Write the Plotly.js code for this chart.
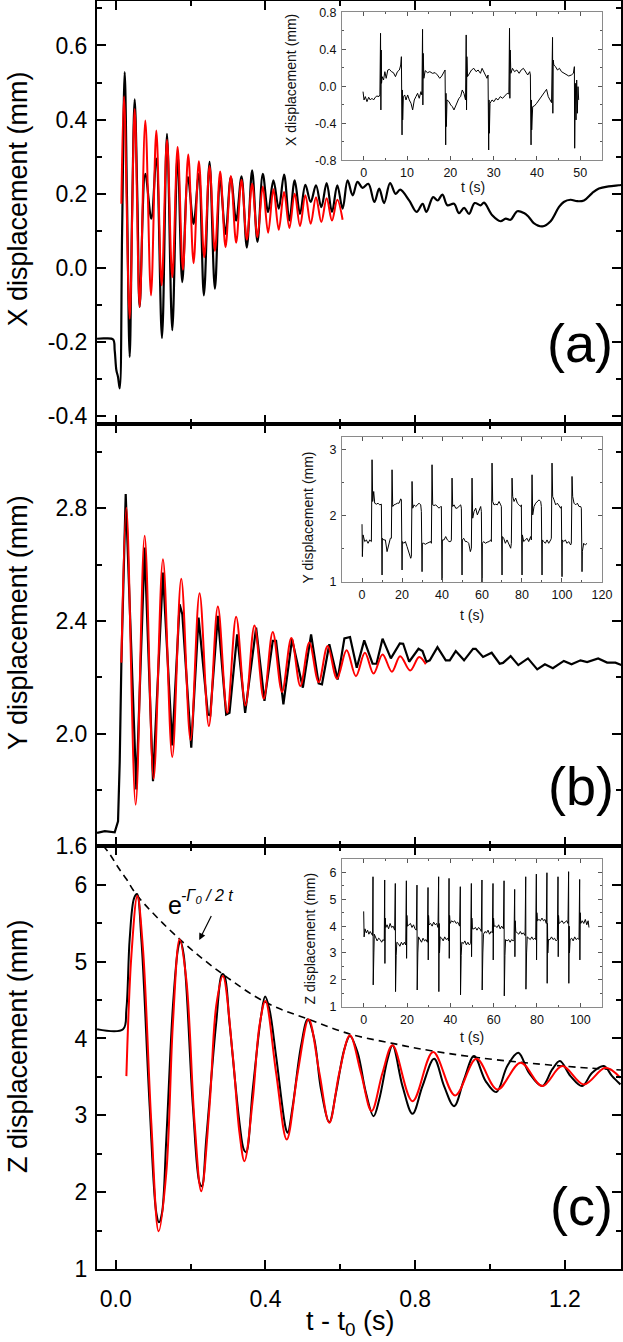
<!DOCTYPE html>
<html>
<head>
<meta charset="utf-8">
<script src="https://cdn.plot.ly/plotly-3.0.1.min.js"></script>
<style>html,body{margin:0;padding:0;background:#fff;}</style>
</head>
<body>
<div id="chart" style="width:623px;height:1342px;"></div>
<script>
// ---------- DATA (t - t0 in s, displacement in mm) ----------
const blackA = [[-0.0498,-0.191],[-0.03,-0.19],[-0.007,-0.193],[-0.0027,-0.222],[0.0018,-0.276],[0.0062,-0.294],[0.0107,-0.325],[0.017,0.092],[0.024,0.528],[0.0302,0.182],[0.0373,-0.240],[0.0436,0.137],[0.0507,0.455],[0.058,0.18],[0.064,-0.105],[0.0791,0.254],[0.0951,0.133],[0.1085,0.295],[0.1236,-0.189],[0.137,0.362],[0.1511,-0.168],[0.1654,0.308],[0.1778,-0.038],[0.1929,0.245],[0.208,0.119],[0.2222,0.254],[0.2356,-0.074],[0.2507,0.286],[0.265,-0.056],[0.2791,0.236],[0.2934,0.092],[0.3076,0.245],[0.3218,0.128],[0.3361,0.247],[0.3503,0.055],[0.3645,0.263],[0.3787,0.07],[0.393,0.254],[0.4071,0.151],[0.4214,0.236],[0.4356,0.160],[0.4498,0.252],[0.464,0.128],[0.4782,0.236],[0.4924,0.146],[0.5067,0.224],[0.5209,0.178],[0.5351,0.223],[0.5493,0.164],[0.5636,0.229],[0.5778,0.151],[0.592,0.223],[0.6062,0.160],[0.6195,0.236],[0.633,0.196],[0.646,0.232],[0.6595,0.216],[0.675,0.227],[0.691,0.178],[0.704,0.214],[0.717,0.175],[0.733,0.229],[0.748,0.200],[0.760,0.211],[0.784,0.182],[0.804,0.151],[0.820,0.173],[0.830,0.151],[0.848,0.191],[0.860,0.182],[0.873,0.198],[0.886,0.169],[0.904,0.173],[0.917,0.148],[0.931,0.162],[0.944,0.146],[0.959,0.175],[0.975,0.169],[0.984,0.176],[1.006,0.142],[1.028,0.126],[1.042,0.133],[1.055,0.130],[1.073,0.153],[1.091,0.148],[1.104,0.137],[1.117,0.121],[1.140,0.112],[1.162,0.126],[1.184,0.164],[1.197,0.178],[1.215,0.184],[1.233,0.180],[1.251,0.182],[1.273,0.202],[1.291,0.214],[1.317,0.220],[1.344,0.223],[1.352,0.224]];
const redA = [[0.0151,0.173],[0.0222,0.463],[0.0373,-0.137],[0.0507,0.429],[0.064,-0.105],[0.0791,0.398],[0.0943,-0.074],[0.1085,0.371],[0.1227,-0.047],[0.137,0.346],[0.1511,-0.025],[0.1654,0.326],[0.1796,-0.005],[0.1938,0.306],[0.208,0.013],[0.2222,0.288],[0.2365,0.029],[0.2507,0.275],[0.265,0.046],[0.2791,0.260],[0.2934,0.056],[0.3076,0.248],[0.3218,0.068],[0.3361,0.238],[0.3503,0.076],[0.3645,0.227],[0.3787,0.083],[0.393,0.220],[0.4071,0.095],[0.4214,0.212],[0.4356,0.103],[0.4498,0.205],[0.464,0.108],[0.4782,0.200],[0.4924,0.113],[0.5067,0.196],[0.5209,0.119],[0.5351,0.191],[0.5493,0.124],[0.5636,0.188],[0.5778,0.128],[0.592,0.184],[0.6062,0.130]];

const blackB = [[-0.0498,1.648],[-0.0293,1.654],[-0.0027,1.650],[0.0062,1.689],[0.0107,1.90],[0.0151,2.252],[0.0267,2.850],[0.0356,2.524],[0.0551,1.802],[0.0773,2.660],[0.0996,1.831],[0.1262,2.572],[0.1511,1.958],[0.1707,2.459],[0.178,2.423],[0.2018,1.950],[0.2214,2.412],[0.2462,2.068],[0.2525,2.065],[0.2729,2.418],[0.2951,2.068],[0.304,2.074],[0.3245,2.352],[0.3458,2.074],[0.3751,2.376],[0.3974,2.116],[0.4196,2.329],[0.4284,2.329],[0.4480,2.104],[0.4711,2.335],[0.5,2.163],[0.522,2.352],[0.5422,2.178],[0.5511,2.175],[0.5707,2.317],[0.593,2.192],[0.611,2.338],[0.626,2.343],[0.644,2.234],[0.664,2.331],[0.6863,2.248],[0.6969,2.248],[0.7129,2.337],[0.7351,2.267],[0.7591,2.320],[0.768,2.319],[0.784,2.255],[0.809,2.301],[0.8196,2.293],[0.8303,2.255],[0.8391,2.260],[0.8596,2.307],[0.8818,2.260],[0.8925,2.260],[0.9085,2.293],[0.9307,2.260],[0.9547,2.301],[0.9618,2.301],[0.9814,2.272],[1.0045,2.287],[1.0258,2.248],[1.0347,2.251],[1.0551,2.275],[1.0756,2.243],[1.1014,2.267],[1.1262,2.228],[1.1467,2.246],[1.168,2.232],[1.1973,2.258],[1.2178,2.246],[1.2418,2.260],[1.2596,2.254],[1.289,2.267],[1.3129,2.252],[1.3351,2.252],[1.352,2.243]];
const redB = [[0.0151,2.252],[0.0285,2.802],[0.0533,1.748],[0.0773,2.702],[0.1013,1.840],[0.1262,2.619],[0.1511,1.917],[0.1751,2.550],[0.2,1.977],[0.2240,2.498],[0.2489,2.027],[0.2729,2.451],[0.2978,2.074],[0.3218,2.415],[0.3467,2.100],[0.3707,2.384],[0.3956,2.124],[0.4196,2.361],[0.4444,2.148],[0.4693,2.339],[0.4933,2.169],[0.5173,2.323],[0.5422,2.183],[0.5662,2.311],[0.5912,2.195],[0.6169,2.296],[0.6418,2.204],[0.6658,2.287],[0.6889,2.213],[0.7129,2.281],[0.7378,2.220],[0.7600,2.275],[0.7867,2.224],[0.8107,2.272],[0.8285,2.246]];

const blackC = [[-0.0498,4.119],[0.0196,4.119],[0.0285,4.380],[0.0373,5.292],[0.0489,5.822],[0.0569,5.879],[0.0685,5.292],[0.0907,3.119],[0.1085,1.729],[0.1156,1.607],[0.1236,1.729],[0.1351,2.685],[0.1529,4.423],[0.1663,5.162],[0.1725,5.271],[0.1814,5.097],[0.2062,3.119],[0.2240,2.120],[0.2302,2.076],[0.2418,2.685],[0.2685,4.206],[0.2845,4.836],[0.2907,4.814],[0.3040,4.206],[0.3307,2.902],[0.3423,2.554],[0.3485,2.519],[0.3662,3.337],[0.3885,4.293],[0.3992,4.545],[0.4107,4.380],[0.4285,3.771],[0.4551,2.815],[0.4596,2.772],[0.4729,3.119],[0.4951,3.902],[0.5129,4.249],[0.5307,3.988],[0.5485,3.337],[0.5707,2.911],[0.5885,3.293],[0.6107,3.858],[0.6258,4.032],[0.6463,3.815],[0.6685,3.293],[0.6889,2.989],[0.7040,3.206],[0.7263,3.728],[0.7396,3.910],[0.7662,3.380],[0.7929,3.019],[0.8196,3.380],[0.8507,3.736],[0.8773,3.380],[0.9040,3.119],[0.9307,3.467],[0.9573,3.771],[0.9884,3.445],[1.0169,3.302],[1.0462,3.641],[1.0756,3.814],[1.1040,3.554],[1.1396,3.380],[1.1662,3.597],[1.1867,3.706],[1.2151,3.510],[1.2462,3.380],[1.2729,3.554],[1.3040,3.641],[1.3262,3.510],[1.3484,3.402]];
const redC = [[0.0285,3.510],[0.0418,5.075],[0.0578,5.857],[0.0729,5.162],[0.0951,2.902],[0.1147,1.490],[0.1351,2.250],[0.1529,4.206],[0.1707,5.292],[0.1885,4.771],[0.2107,2.902],[0.2285,2.011],[0.2507,3.119],[0.2685,4.423],[0.2862,4.814],[0.3129,3.771],[0.3307,2.772],[0.3440,2.402],[0.3662,3.206],[0.3840,4.162],[0.4000,4.488],[0.4285,3.554],[0.4569,2.685],[0.4862,3.554],[0.5156,4.249],[0.5440,3.554],[0.5707,2.902],[0.5974,3.554],[0.6258,4.041],[0.6551,3.554],[0.6836,3.054],[0.7129,3.554],[0.7396,3.910],[0.7929,3.184],[0.8480,3.823],[0.9067,3.258],[0.9636,3.736],[1.0196,3.336],[1.0818,3.684],[1.1396,3.380],[1.1929,3.641],[1.2507,3.402],[1.3084,3.619],[1.3484,3.488]];
const envelopeC = [[-0.034,6.51],[-0.016,6.40],[0.0063,6.227],[0.0285,6.074],[0.0578,5.857],[0.1707,5.292],[0.2862,4.836],[0.4018,4.467],[0.5156,4.249],[0.6284,4.054],[0.7396,3.936],[0.8107,3.867],[0.9707,3.749],[1.1929,3.641],[1.352,3.588]];

// insets: t (s), displacement (mm)
const insetA = [[-0.15,-0.058],[0.08,-0.148],[0.38,-0.112],[0.76,-0.166],[1.15,-0.119],[1.53,-0.148],[1.91,-0.130],[2.29,-0.148],[2.67,-0.119],[3.05,-0.105],[3.51,-0.112],[3.74,-0.087],[3.89,0.573],[3.97,-0.256],[4.05,0.392],[4.12,0.032],[4.27,0.104],[4.58,0.068],[4.89,0.158],[5.19,0.086],[5.57,0.176],[5.95,0.183],[6.41,0.158],[6.87,0.147],[7.33,0.104],[7.79,0.158],[8.24,0.176],[8.55,0.230],[8.70,0.320],[8.85,-0.526],[8.93,-0.04],[9.0,-0.364],[9.16,-0.112],[9.47,-0.094],[9.77,-0.148],[10.15,-0.094],[10.53,-0.148],[10.92,-0.184],[11.30,-0.256],[11.68,-0.148],[12.06,-0.112],[12.44,-0.076],[12.82,-0.130],[13.21,-0.058],[13.44,-0.094],[13.59,0.616],[13.66,-0.202],[13.74,0.356],[13.89,0.086],[14.2,0.169],[14.73,0.147],[15.27,0.158],[15.88,0.140],[16.49,0.147],[17.02,0.122],[17.56,0.086],[18.02,0.111],[18.47,0.158],[18.78,0.176],[18.93,-0.634],[19.0,-0.076],[19.08,-0.436],[19.24,-0.148],[19.69,-0.166],[20.08,-0.202],[20.46,-0.220],[20.84,-0.256],[21.22,-0.220],[21.60,-0.184],[21.98,-0.130],[22.37,-0.112],[22.75,-0.040],[23.13,-0.076],[23.51,-0.148],[23.66,0.555],[23.74,-0.256],[23.82,0.320],[23.97,0.104],[24.43,0.140],[24.89,0.176],[25.42,0.194],[25.95,0.158],[26.41,0.176],[26.95,0.140],[27.33,0.194],[27.71,0.158],[28.09,0.111],[28.47,0.086],[28.70,0.122],[28.85,-0.689],[28.93,-0.148],[29.01,-0.508],[29.16,-0.184],[29.62,-0.148],[30.08,-0.166],[30.53,-0.130],[30.99,-0.148],[31.53,-0.112],[32.06,-0.130],[32.67,-0.094],[33.13,-0.076],[33.51,-0.083],[33.66,0.627],[33.74,-0.130],[33.82,0.392],[33.97,0.140],[34.35,0.194],[34.81,0.158],[35.34,0.176],[35.88,0.140],[36.34,0.176],[36.87,0.194],[37.40,0.158],[37.86,0.122],[38.32,0.158],[38.47,0.122],[38.63,-0.634],[38.70,-0.148],[38.78,-0.472],[39.01,-0.220],[39.39,-0.213],[39.92,-0.184],[40.46,-0.148],[41.07,-0.112],[41.68,-0.058],[42.21,-0.033],[42.60,-0.112],[42.98,-0.148],[43.36,-0.177],[43.59,0.529],[43.66,-0.292],[43.74,0.284],[43.89,0.230],[44.27,0.212],[44.73,0.176],[45.19,0.194],[45.65,0.158],[46.26,0.140],[46.79,0.122],[47.33,0.111],[47.94,0.122],[48.40,0.140],[48.63,0.212],[48.70,-0.670],[48.85,0.032],[49.01,-0.364],[49.16,0.068],[49.31,-0.292],[49.47,-0.004],[49.62,-0.148]];

const insetB = [[0.0,1.875],[0.18,1.384],[0.52,1.713],[1.35,1.612],[2.18,1.637],[3.02,1.586],[3.85,1.637],[4.68,1.612],[5.02,2.851],[5.35,2.219],[5.85,2.370],[6.35,2.193],[7.18,2.178],[8.02,2.193],[8.85,2.168],[9.68,2.178],[10.02,1.106],[10.18,1.662],[10.85,1.637],[11.68,1.637],[12.52,1.460],[13.35,1.561],[14.18,1.662],[14.68,1.662],[15.02,2.699],[15.35,2.143],[16.02,2.168],[16.85,2.178],[17.68,2.193],[18.52,2.193],[19.35,2.259],[19.68,2.244],[20.02,1.182],[20.18,1.612],[20.85,1.586],[21.68,1.612],[22.52,1.536],[23.35,1.460],[24.35,1.359],[24.68,1.384],[25.02,2.522],[25.35,2.117],[26.02,2.168],[26.85,2.143],[27.68,2.168],[28.52,2.193],[29.35,2.168],[29.68,2.067],[30.02,1.156],[30.18,1.586],[30.85,1.586],[31.68,1.571],[32.52,1.586],[33.35,1.602],[34.35,1.612],[34.68,1.586],[35.02,2.775],[35.35,2.168],[36.02,2.158],[36.85,2.168],[37.68,2.143],[38.52,2.117],[39.35,2.143],[39.68,2.143],[40.02,1.030],[40.18,1.637],[41.02,1.637],[41.85,1.688],[42.68,1.637],[43.52,1.612],[44.35,1.612],[44.68,1.637],[45.02,2.573],[45.35,2.143],[46.02,2.168],[46.85,2.117],[47.52,2.117],[48.35,2.143],[49.35,2.168],[49.68,2.117],[50.02,1.106],[50.18,1.637],[50.85,1.662],[51.68,1.612],[52.52,1.612],[53.35,1.586],[54.18,1.460],[54.68,1.511],[55.02,2.573],[55.35,1.966],[56.02,2.067],[56.85,2.117],[57.68,2.016],[58.52,2.092],[59.35,2.143],[59.68,2.067],[60.02,0.979],[60.18,1.586],[60.85,1.612],[61.68,1.586],[62.52,1.602],[63.52,1.612],[64.35,1.637],[64.68,1.612],[65.02,2.800],[65.35,2.219],[66.02,2.168],[66.85,2.178],[67.68,2.168],[68.52,2.219],[69.35,2.168],[69.68,2.143],[70.02,1.106],[70.18,1.688],[70.85,1.662],[71.68,1.586],[72.52,1.637],[73.35,1.586],[74.35,1.511],[74.68,1.586],[75.02,2.573],[75.35,2.294],[76.02,2.219],[76.85,2.270],[77.68,2.193],[78.52,2.168],[79.35,2.143],[79.68,2.168],[80.02,1.106],[80.18,1.713],[80.85,1.612],[81.68,1.637],[82.52,1.662],[83.35,1.612],[84.35,1.688],[84.68,1.637],[85.02,2.623],[85.35,2.016],[86.02,2.143],[86.85,2.193],[87.68,2.219],[88.52,2.244],[89.35,2.219],[89.68,2.143],[90.02,1.106],[90.18,1.637],[90.85,1.612],[91.68,1.586],[92.52,1.637],[93.35,1.586],[94.35,1.637],[94.68,1.662],[95.02,2.800],[95.35,2.294],[96.02,2.244],[96.85,2.168],[97.68,2.193],[98.52,2.143],[99.35,2.117],[99.68,2.143],[100.02,1.080],[100.18,1.637],[100.85,1.612],[101.68,1.637],[102.52,1.586],[103.35,1.612],[104.35,1.561],[104.68,1.586],[105.02,2.598],[105.35,2.294],[106.02,2.193],[106.85,2.168],[107.68,2.193],[108.52,2.143],[109.35,2.143],[109.68,2.117],[110.02,1.156],[110.18,1.460],[110.85,1.586],[111.68,1.561],[112.52,1.586]];

const insetC = [[0,4.55],[0.2,3.6],[0.6,3.9],[1.2,3.75],[1.8,3.85],[2.4,3.7],[3.0,3.8],[3.6,3.7],[4.1,3.65],[4.3,5.84],[4.4,1.81],[4.55,4.3],[4.7,3.0],[4.9,3.7],[5.5,3.55],[6.2,3.45],[6.9,3.55],[7.6,3.5],[8.3,3.4],[9.0,3.5],[9.5,3.45],[9.7,5.72],[9.8,2.61],[9.95,4.3],[10.2,3.95],[10.8,4.05],[11.5,3.9],[12.2,4.1],[12.9,3.95],[13.6,4.0],[14.3,3.85],[14.6,5.59],[14.7,1.56],[14.85,4.0],[15.0,2.9],[15.3,3.4],[16,3.35],[16.7,3.25],[17.4,3.4],[18.1,3.3],[18.8,3.4],[19.4,3.3],[19.7,5.69],[19.8,2.8],[19.95,4.4],[20.2,4.0],[20.9,4.05],[21.6,4.1],[22.3,3.95],[23.0,4.05],[23.7,3.9],[24.3,3.85],[24.6,5.53],[24.7,1.62],[24.85,4.0],[25.0,3.0],[25.3,3.6],[26,3.5],[26.7,3.4],[27.4,3.55],[28.1,3.45],[28.8,3.5],[29.4,3.4],[29.7,5.44],[29.8,2.74],[29.95,4.4],[30.2,4.05],[30.9,4.1],[31.6,4.0],[32.3,4.15],[33.0,4.05],[33.7,4.1],[34.3,3.95],[34.6,5.84],[34.7,1.56],[34.85,4.1],[35.0,3.0],[35.3,3.6],[36,3.55],[36.7,3.45],[37.4,3.6],[38.1,3.5],[38.8,3.55],[39.2,3.45],[39.4,5.78],[39.5,2.8],[39.65,4.4],[39.9,4.1],[40.6,4.2],[41.3,4.15],[42.0,4.2],[42.7,4.1],[43.4,4.15],[44.3,4.0],[44.6,5.47],[44.7,1.44],[44.85,3.9],[45.0,2.9],[45.3,3.4],[46,3.35],[46.7,3.45],[47.4,3.3],[48.1,3.4],[48.8,3.3],[49.4,3.35],[49.7,5.59],[49.8,2.86],[49.95,4.3],[50.2,3.9],[50.9,3.9],[51.6,3.95],[52.3,3.85],[53.0,3.95],[53.7,3.9],[54.3,3.8],[54.6,5.72],[54.7,1.62],[54.85,4.0],[55.0,3.0],[55.3,3.7],[56,3.8],[56.7,3.75],[57.4,3.85],[58.1,3.7],[58.8,3.8],[59.4,3.75],[59.7,5.59],[59.8,2.74],[59.95,4.3],[60.2,4.0],[60.9,4.0],[61.6,3.95],[62.3,4.05],[63.0,3.9],[63.7,4.0],[64.5,3.9],[64.8,5.69],[64.9,1.40],[65.05,3.9],[65.2,2.9],[65.5,3.5],[66.2,3.45],[66.9,3.5],[67.6,3.4],[68.3,3.5],[69.0,3.45],[69.4,3.5],[69.7,5.37],[69.8,2.86],[69.95,4.2],[70.2,3.8],[70.9,3.75],[71.6,3.7],[72.3,3.8],[73.0,3.7],[73.7,3.75],[74.5,3.65],[74.8,5.84],[74.9,1.65],[75.05,4.0],[75.2,3.0],[75.5,3.6],[76.2,3.55],[76.9,3.5],[77.6,3.6],[78.3,3.5],[79.0,3.55],[79.4,3.5],[79.7,5.94],[79.8,2.74],[79.95,4.5],[80.2,4.2],[80.9,4.25],[81.6,4.2],[82.3,4.3],[83.0,4.2],[83.7,4.25],[84.3,4.1],[84.6,5.99],[84.7,1.87],[84.85,4.1],[85.0,3.0],[85.3,3.5],[86,3.5],[86.7,3.6],[87.4,3.5],[88.1,3.55],[88.8,3.45],[89.4,3.5],[89.7,5.84],[89.8,2.86],[89.95,4.4],[90.2,4.1],[90.9,4.15],[91.6,4.2],[92.3,4.1],[93.0,4.15],[93.7,4.2],[94.3,4.1],[94.6,6.03],[94.7,1.87],[94.85,4.0],[95.0,3.0],[95.3,3.5],[96,3.55],[96.7,3.45],[97.4,3.6],[98.1,3.5],[98.8,3.55],[99.4,3.5],[99.7,5.74],[99.8,2.74],[99.95,4.5],[100.2,4.1],[100.9,4.2],[101.6,4.1],[102.3,4.25],[103,4.05],[103.6,4.2],[104,3.95]];

// tick labels
const xTickVals = [0, 0.4, 0.8, 1.2];
const xTickText = ['0.0', '0.4', '0.8', '1.2'];
const yTickValsA = [-0.4, -0.2, 0, 0.2, 0.4, 0.6];
const yTickTextA = ['-0.4', '-0.2', '0.0', '0.2', '0.4', '0.6'];
const yTickValsB = [1.6, 2.0, 2.4, 2.8];
const yTickTextB = ['1.6', '2.0', '2.4', '2.8'];
const yTickValsC = [1, 2, 3, 4, 5, 6];
const yTickTextC = ['1', '2', '3', '4', '5', '6'];
const inAxTickVals = [0, 10, 20, 30, 40, 50];
const inAyTickVals = [-0.8, -0.4, 0, 0.4, 0.8];
const inAyTickText = ['-0.8', '-0.4', '0.0', '0.4', '0.8'];
const inBxTickVals = [0, 20, 40, 60, 80, 100, 120];
const inByTickVals = [1, 2, 3];
const inCxTickVals = [0, 20, 40, 60, 80, 100];
const inCyTickVals = [1, 2, 3, 4, 5, 6];

// ---------- BUILD ----------
const FONT = 'Liberation Sans, Arial, Helvetica, sans-serif';
const xs = a => a.map(p => p[0]);
const ys = a => a.map(p => p[1]);

function line(data, xa, ya, color, width, shape, extra) {
  return Object.assign({
    type: 'scatter', mode: 'lines', x: xs(data), y: ys(data), xaxis: xa, yaxis: ya,
    line: {color: color, width: width, shape: shape || 'linear'}, hoverinfo: 'skip'
  }, extra || {});
}

const traces = [
  line(blackA, 'x', 'y', '#000', 2.2, 'spline'),
  line(redA, 'x', 'y', '#ff0000', 2, 'spline'),
  line(blackB, 'x2', 'y2', '#000', 2.2, 'linear'),
  line(redB, 'x2', 'y2', '#ff0000', 2, 'spline'),
  line(envelopeC, 'x3', 'y3', '#000', 1.6, 'spline'),
  line(blackC, 'x3', 'y3', '#000', 2, 'spline'),
  line(redC, 'x3', 'y3', '#ff0000', 2, 'spline'),
  line(insetA, 'x4', 'y4', '#000', 1, 'linear'),
  line(insetB, 'x5', 'y5', '#000', 1, 'linear'),
  line(insetC, 'x6', 'y6', '#000', 1, 'linear')
];
traces[4].line.dash = '7px,5px';

function mainX(anchor, labels) {
  return {
    domain: [0, 1], anchor: anchor, range: [-0.05, 1.35],
    showline: true, linecolor: '#000', linewidth: 2, mirror: 'ticks',
    ticks: 'inside', ticklen: 9, tickwidth: 2, tickcolor: '#000',
    tickmode: 'array', tickvals: xTickVals, ticktext: xTickText,
    showticklabels: labels, tickfont: {family: FONT, size: 23, color: '#000'},
    ticklabelstandoff: 8,
    minor: {ticks: 'inside', ticklen: 5, tickwidth: 2, tickcolor: '#000', tick0: 0, dtick: 0.2},
    showgrid: false, zeroline: false, fixedrange: true
  };
}
function mainY(domain, range, vals, text, minorDt) {
  return {
    domain: domain, anchor: domain[0] === 0 ? 'x3' : (domain[0] < 0.5 ? 'x2' : 'x'), range: range,
    showline: true, linecolor: '#000', linewidth: 2, mirror: 'ticks',
    ticks: 'inside', ticklen: 9, tickwidth: 2, tickcolor: '#000',
    tickmode: 'array', tickvals: vals, ticktext: text,
    tickfont: {family: FONT, size: 23, color: '#000'}, ticklabelstandoff: 3,
    minor: {ticks: 'inside', ticklen: 5, tickwidth: 2, tickcolor: '#000', tick0: 0, dtick: minorDt},
    showgrid: false, zeroline: false, fixedrange: true
  };
}
const IN_DOM_X = [0.4676, 0.9637];
function inX(anchor, range, vals, minorDt) {
  return {
    domain: IN_DOM_X, anchor: anchor, range: range,
    showline: true, linecolor: '#8a8a8a', linewidth: 1, mirror: 'ticks',
    ticks: 'inside', ticklen: 4, tickwidth: 1, tickcolor: '#555',
    tickmode: 'array', tickvals: vals, ticktext: vals.map(String),
    tickfont: {family: FONT, size: 12.5, color: '#111'}, ticklabelstandoff: 1,
    minor: {ticks: 'inside', ticklen: 2, tickwidth: 1, tickcolor: '#555', tick0: 0, dtick: minorDt},
    showgrid: false, zeroline: false, fixedrange: true
  };
}
function inY(anchor, domain, range, vals, text, minorDt) {
  return {
    domain: domain, anchor: anchor, range: range,
    showline: true, linecolor: '#8a8a8a', linewidth: 1, mirror: 'ticks',
    ticks: 'inside', ticklen: 4, tickwidth: 1, tickcolor: '#555',
    tickmode: 'array', tickvals: vals, ticktext: text,
    tickfont: {family: FONT, size: 12.5, color: '#111'}, ticklabelstandoff: 2,
    minor: {ticks: 'inside', ticklen: 2, tickwidth: 1, tickcolor: '#555', tick0: 0, dtick: minorDt},
    showgrid: false, zeroline: false, fixedrange: true
  };
}

function txt(text, x, y, size, opts) {
  return Object.assign({
    text: text, x: x, y: y, xref: 'paper', yref: 'paper', showarrow: false,
    xanchor: 'center', yanchor: 'middle', font: {family: FONT, size: size, color: '#000'}
  }, opts || {});
}

const annotations = [
  txt('X displacement (mm)', -0.1508, 0.8442, 27, {textangle: -90}),
  txt('Y displacement (mm)', -0.1508, 0.5103, 27, {textangle: -90}),
  txt('Z displacement (mm)', -0.1508, 0.1759, 27, {textangle: -90}),
  txt('t - t<sub>0</sub> (s)', 0.483, -0.0425, 27),
  txt('(a)', 0.9218, 0.7299, 54),
  txt('(b)', 0.9237, 0.3806, 54),
  txt('(c)', 0.925, 0.0497, 54),
  txt('X displacement (mm)', 0.3702, 0.9377, 14, {textangle: -90, font: {family: FONT, size: 14, color: '#111'}}),
  txt('Y displacement (mm)', 0.4027, 0.5927, 14, {textangle: -90, font: {family: FONT, size: 14, color: '#111'}}),
  txt('Z displacement (mm)', 0.4055, 0.2603, 14, {textangle: -90, font: {family: FONT, size: 14, color: '#111'}}),
  txt('t (s)', 0.7181, 0.8535, 14, {font: {family: FONT, size: 14, color: '#111'}}),
  txt('t (s)', 0.715, 0.5158, 14, {font: {family: FONT, size: 14, color: '#111'}}),
  txt('t (s)', 0.715, 0.1832, 14, {font: {family: FONT, size: 14, color: '#111'}}),
  txt('e', 0.1495, 0.2871, 25),
  txt('<i>-Γ<sub>0</sub> / 2 t</i>', 0.2105, 0.2934, 16),
  {text: ' ', x: 0.1952, y: 0.2595, xref: 'paper', yref: 'paper', showarrow: true,
   ax: 14, ay: -28, arrowhead: 2, arrowsize: 1.1, arrowwidth: 1.2, arrowcolor: '#000', standoff: 0,
   font: {family: FONT, size: 4}}
];

const layout = {
  width: 623, height: 1342,
  margin: {l: 97, r: 2, t: 1, b: 73, pad: 0},
  paper_bgcolor: '#fff', plot_bgcolor: '#fff', showlegend: false,
  font: {family: FONT, color: '#000'},
  xaxis: mainX('y', false),
  xaxis2: mainX('y2', false),
  xaxis3: mainX('y3', true),
  yaxis: mainY([2/3, 1], [-0.42, 0.72], yTickValsA, yTickTextA, 0.1),
  yaxis2: mainY([1/3, 2/3], [1.6, 3.1], yTickValsB, yTickTextB, 0.2),
  yaxis3: mainY([0, 1/3], [1, 6.5], yTickValsC, yTickTextC, 0.5),
  xaxis4: inX('y4', [-5, 55], inAxTickVals, 5),
  yaxis4: inY('x4', [0.8744, 0.9911], [-0.8, 0.8], inAyTickVals, inAyTickText, 0.2),
  xaxis5: inX('y5', [-10, 120], inBxTickVals, 10),
  yaxis5: inY('x5', [0.5418, 0.6564], [1, 3.2], inByTickVals, inByTickVals.map(String), 0.5),
  xaxis6: inX('y6', [-10, 110], inCxTickVals, 10),
  yaxis6: inY('x6', [0.2069, 0.3233], [1, 6.5], inCyTickVals, inCyTickVals.map(String), 0.5),
  annotations: annotations
};

Plotly.newPlot('chart', traces, layout, {staticPlot: true, displayModeBar: false});
</script>
</body>
</html>
